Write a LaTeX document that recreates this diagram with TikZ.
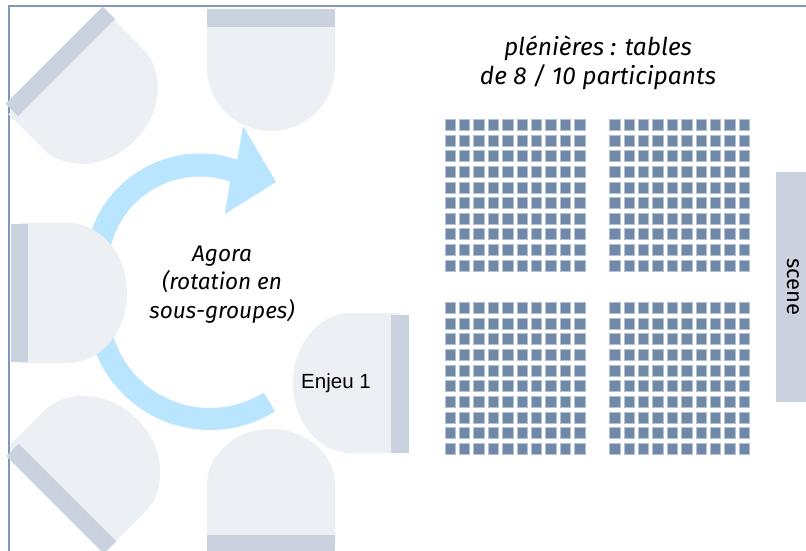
\documentclass[tikz,border=0pt]{standalone}
\usepackage{fontspec}
\setmainfont{Fira Sans}
\newfontfamily\arialfont{Liberation Sans}
\definecolor{bodycol}{HTML}{ECEFF3}
\definecolor{barcol}{HTML}{CBD2DF}
\definecolor{seatcol}{HTML}{7189A8}
\definecolor{seatedge}{HTML}{B4C1D3}
\definecolor{framecol}{HTML}{8098B8}
\definecolor{arrowcol}{HTML}{B9E5FE}
\tikzset{
  bodyfill/.style={fill=bodycol,draw=none},
  barfill/.style={fill=barcol,draw=none},
  seat/.style={fill=seatcol,draw=seatedge,line width=.4pt},
  arcfill/.style={fill=arrowcol,draw=none},
  titletext/.style={font=\itshape\fontsize{24.5}{29}\selectfont,align=center,text=black},
  agoratext/.style={font=\itshape\fontsize{22.6}{28.5}\selectfont,align=center,text=black},
  pics/station/.style n args={5}{code={
    % local: x = depth from the bar, y = along the bar
    % #1 half width of the body, #2 depth, #3 straight part, #4 body offset, #5 half length of the bar
    \begin{scope}[shift={(0,#4)}]
    \fill[bodyfill] (-8,-#1) -- (#3,-#1)
      .. controls ({#3+(#2-#3)*.5523},-#1) and (#2,{-#1*.5523}) .. (#2,0)
      .. controls (#2,{#1*.5523}) and ({#3+(#2-#3)*.5523},#1) .. (#3,#1)
      -- (-8,#1) -- cycle;
    \end{scope}
    \fill[barfill] (-17.5,-#5) rectangle (0,#5);
  }}
}
\begin{document}
\begin{tikzpicture}[x=1pt,y=-1pt]
\useasboundingbox (0,0) rectangle (806,551);
\clip (0,0) rectangle (806,551);
\fill[white] (0,0) rectangle (806,551);
% frame
\draw[framecol,line width=2pt] (9,551) -- (9,6.5) -- (806,6.5);
% rotation arrows
\fill[arcfill]
  plot[domain=190:289,samples=40] ({200+115*cos(\x)},{268.5+115*sin(\x)})
  -- (243,126) -- (276,182) -- (225,214)
  -- plot[domain=289:190,samples=40] ({200+92*cos(\x)},{268.5+92*sin(\x)}) -- cycle;
\fill[arcfill]
  plot[domain=170:58,samples=40] ({210+123*cos(\x)},{307+123*sin(\x)})
  -- plot[domain=58:170,samples=40] ({210+101*cos(\x)},{307+101*sin(\x)}) -- cycle;
% stations
\pic[rotate=-90] at (271,27) {station={64}{104}{40}{0}{64}};
\pic[rotate=-45] at (66.5,67.5) {station={70.7}{100}{40}{3.5}{68.7}};
\pic at (28,293) {station={70}{99}{40}{0}{69}};
\pic[rotate=45] at (67.5,492.5) {station={71.5}{101}{40}{-2.8}{69}};
\pic[rotate=90] at (271,535) {station={64}{106}{50}{0}{64}};
\pic[rotate=180] at (391,384) {station={70}{98}{40}{1}{69}};
% scene
\node[barfill,minimum width=30pt,minimum height=230pt,inner sep=0pt,anchor=north west] (scenebar) at (776,171.5) {};
\node[rotate=-90,font=\fontsize{22}{24}\selectfont,text=black] (scenelabel) at (793,287) {scene};
% tables
\foreach \gx in {444.7,609.3}{
  \foreach \gy in {119.2,302.3}{
    \foreach \i in {0,...,9}{
      \foreach \j in {0,...,9}{
        \fill[seat] ({\gx+\i*14.4},{\gy+\j*15.64}) rectangle ++(10.4,11);
      }
    }
  }
}
% labels
\node[titletext] (title) at (598,63) {plénières : tables\\de 8 / 10 participants};
\node[agoratext] (agora) at (222,284.5) {Agora\\(rotation en\\sous-groupes)};
\node[font=\arialfont\fontsize{20.5}{24}\selectfont,text=black] (enjeu) at (336,383) {Enjeu 1};
\end{tikzpicture}
\end{document}
